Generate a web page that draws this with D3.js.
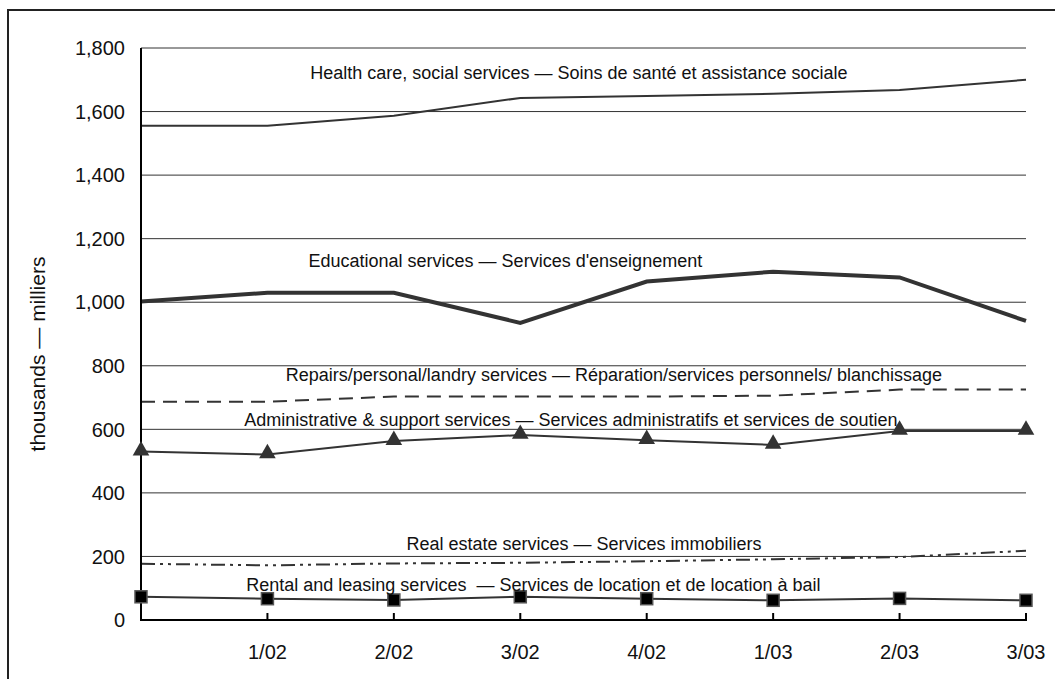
<!DOCTYPE html>
<html lang="en">
<head>
  <meta charset="UTF-8" />
  <title>Service industries employment</title>
  <script src="https://d3js.org/d3.v7.min.js"></script>
  <style>
    html, body {
      margin: 0;
      padding: 0;
      background: #ffffff;
      overflow: hidden;
    }
    svg {
      display: block;
      font-family: 'Liberation Sans', Arial, sans-serif;
    }
    .grid line { stroke: #333; stroke-width: 1px; }
    .tick-label { font-size: 20px; fill: #111; }
    .note { font-size: 18px; fill: #111; text-anchor: middle; white-space: pre; }
  </style>
</head>
<body>
<svg id="chart" width="1055" height="679"></svg>
<script>
// quarters (first point unlabelled)
const quarters = ["", "1/02", "2/02", "3/02", "4/02", "1/03", "2/03", "3/03"];
const yTicks = [0, 200, 400, 600, 800, 1000, 1200, 1400, 1600, 1800];

const health    = [1555, 1555, 1587, 1643, 1649, 1656, 1668, 1700];
const education = [1002, 1030, 1030, 935, 1065, 1096, 1078, 941];
const repairs   = [687, 687, 703, 703, 703, 706, 725, 725];
const admin     = [530, 521, 563, 582, 566, 551, 595, 595];
const realEstate = [177, 172, 178, 180, 185, 191, 198, 218];
const rental    = [73, 67, 63, 73, 67, 62, 68, 62];

const labels = [
  "Health care, social services \u2014 Soins de santé et assistance sociale",
  "Educational services \u2014 Services d'enseignement",
  "Repairs/personal/landry services \u2014 Réparation/services personnels/ blanchissage",
  "Administrative & support services \u2014 Services administratifs et services de soutien",
  "Real estate services \u2014 Services immobiliers",
  "Rental and leasing services  \u2014 Services de location et de location à bail"
];

const svg = d3.select("#chart");
const margin = { left: 141, top: 48, right: 29, bottom: 59 };
const W = 1055, H = 679;

const x = d3.scaleLinear().domain([0, quarters.length - 1]).range([margin.left, W - margin.right]);
const y = d3.scaleLinear().domain([0, 1800]).range([H - margin.bottom, margin.top]);

// outer frame
svg.append("rect")
  .attr("x", 8).attr("y", 10)
  .attr("width", 1200).attr("height", 800)
  .attr("fill", "none")
  .attr("stroke", "#222")
  .attr("stroke-width", 2);

// gridlines
svg.append("g").attr("class", "grid")
  .selectAll("line")
  .data(yTicks.filter(d => d > 0))
  .enter().append("line")
  .attr("x1", x(0)).attr("x2", x(quarters.length - 1))
  .attr("y1", d => y(d)).attr("y2", d => y(d));

// y tick labels
svg.append("g")
  .selectAll("text")
  .data(yTicks)
  .enter().append("text")
  .attr("class", "tick-label")
  .attr("x", x(0) - 16)
  .attr("y", d => y(d))
  .attr("dy", "0.36em")
  .attr("text-anchor", "end")
  .text(d => d3.format(",")(d));

// x tick labels
svg.append("g")
  .selectAll("text")
  .data(quarters)
  .enter().append("text")
  .attr("class", "tick-label")
  .attr("x", (d, i) => x(i))
  .attr("y", y(0) + 39)
  .attr("text-anchor", "middle")
  .text(d => d);

// y axis title
svg.append("text")
  .attr("transform", `translate(45, ${(y(0) + y(1800)) / 2 + 20}) rotate(-90)`)
  .attr("text-anchor", "middle")
  .style("font-size", "21px")
  .attr("fill", "#111")
  .text("thousands \u2014 milliers");

const line = d3.line().x((d, i) => x(i)).y(d => y(d));

const series = [
  { values: health, width: 2, dash: null },
  { values: education, width: 4, dash: null },
  { values: repairs, width: 2, dash: "14,8" },
  { values: admin, width: 2, dash: null },
  { values: realEstate, width: 2, dash: "14,5,3,5,3,5" },
  { values: rental, width: 2, dash: null }
];

svg.append("g")
  .selectAll("path")
  .data(series)
  .enter().append("path")
  .attr("d", d => line(d.values))
  .attr("fill", "none")
  .attr("stroke", "#333")
  .attr("stroke-width", d => d.width)
  .attr("stroke-dasharray", d => d.dash);

// axes lines
svg.append("line")
  .attr("x1", x(0)).attr("x2", x(0))
  .attr("y1", y(1800)).attr("y2", y(0))
  .attr("stroke", "#000").attr("stroke-width", 2);
svg.append("line")
  .attr("x1", x(0) - 1).attr("x2", x(quarters.length - 1) + 1)
  .attr("y1", y(0)).attr("y2", y(0))
  .attr("stroke", "#000").attr("stroke-width", 2);
svg.append("g")
  .selectAll("line")
  .data(quarters.slice(1))
  .enter().append("line")
  .attr("x1", (d, i) => x(i + 1)).attr("x2", (d, i) => x(i + 1))
  .attr("y1", y(0)).attr("y2", y(0) - 7)
  .attr("stroke", "#000").attr("stroke-width", 2);

// triangle markers
svg.append("g")
  .selectAll("path")
  .data(admin)
  .enter().append("path")
  .attr("d", d3.symbol().type(d3.symbolTriangle).size(120))
  .attr("transform", (d, i) => `translate(${x(i)},${y(d) - 1})`)
  .attr("fill", "#333");

// square markers
svg.append("g")
  .selectAll("rect")
  .data(rental)
  .enter().append("rect")
  .attr("x", (d, i) => x(i) - 6)
  .attr("y", d => y(d) - 6)
  .attr("width", 12).attr("height", 12)
  .attr("fill", "#000")
  .attr("stroke", "#555")
  .attr("stroke-width", 1.5);

// series annotations, placed in data units
const labelPos = [[3.464, 1702], [2.882, 1111], [3.741, 752], [3.401, 610], [3.504, 220], [3.104, 91]];
svg.append("g")
  .selectAll("text")
  .data(labels)
  .enter().append("text")
  .attr("class", "note")
  .attr("x", (d, i) => x(labelPos[i][0]))
  .attr("y", (d, i) => y(labelPos[i][1]))
  .text(d => d);
</script>
</body>
</html>
